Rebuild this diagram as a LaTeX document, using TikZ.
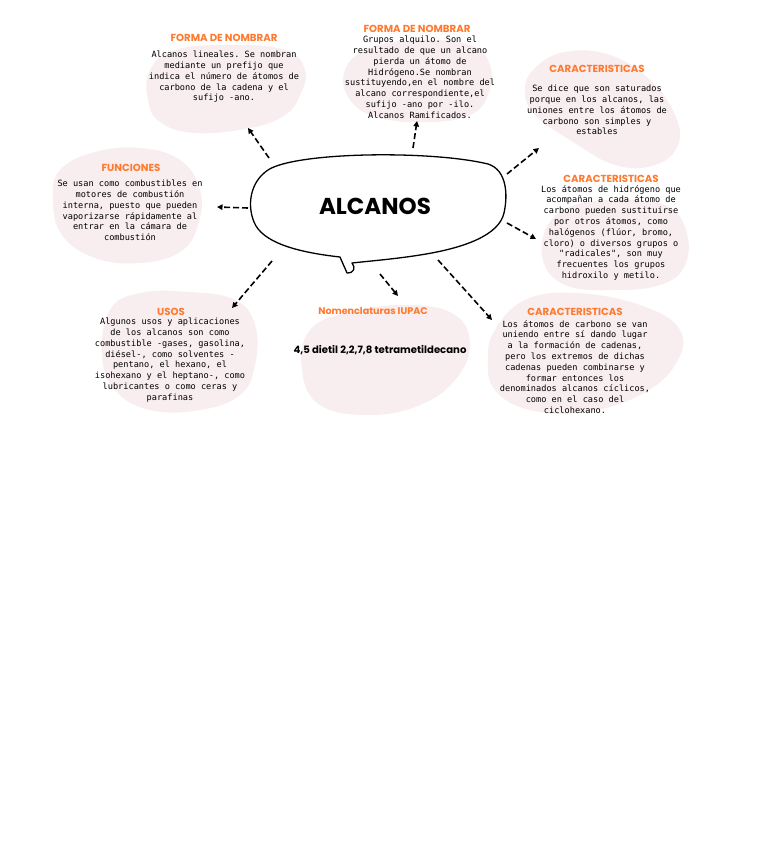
\documentclass[tikz,border=0pt]{standalone}
\usepackage{fontspec}
\setmainfont{Poppins}
\newfontfamily\monof{DejaVu Sans Mono}
\usetikzlibrary{arrows.meta}
\definecolor{blobpink}{HTML}{F8EDEF}
\definecolor{titleorange}{HTML}{FF7A2E}
\frenchspacing
\tikzset{
  blob/.style={fill=blobpink, draw=none},
  ttl/.style={font=\bfseries\fontsize{10.2}{11}\selectfont, text=titleorange, inner sep=0pt, anchor=base},
  body/.style={font=\monof\fontsize{8.6}{10.8}\selectfont, align=center, inner sep=0pt, anchor=north},
  arr/.style={-{Triangle[length=5.5pt,width=5.5pt]}, line width=1.6pt, dash pattern=on 6pt off 3pt},
  bubble/.style={draw=black, line width=1.3pt, fill=white, line join=round}
}
\begin{document}
\begin{tikzpicture}[x=1pt,y=-1pt]
\useasboundingbox (0,0) rectangle (768,862);
\fill[white] (0,0) rectangle (768,862);

% blobs
\fill[blob] plot[smooth cycle, tension=0.7] coordinates {(150,70) (175,50) (230,45) (285,50) (305,70) (300,95) (285,115) (250,128) (195,133) (160,122) (148,100)};
\fill[blob] plot[smooth cycle, tension=0.7] coordinates {(345,70) (370,48) (420,40) (470,45) (490,65) (488,95) (470,115) (430,122) (380,118) (350,100)};
\fill[blob] plot[smooth cycle, tension=0.7] coordinates {(535,68) (565,52) (610,55) (650,80) (675,115) (678,145) (655,165) (615,165) (570,140) (535,115) (525,90)};
\fill[blob] plot[smooth cycle, tension=0.7] coordinates {(60,170) (95,152) (140,148) (180,160) (200,190) (198,225) (180,252) (140,263) (95,258) (62,235) (53,200)};
\fill[blob] plot[smooth cycle, tension=0.7] coordinates {(548,225) (575,205) (620,200) (665,205) (686,230) (685,265) (660,285) (610,290) (565,285) (543,260)};
\fill[blob] plot[smooth cycle, tension=0.7] coordinates {(110,310) (140,293) (190,292) (235,300) (255,325) (255,365) (240,395) (200,410) (150,410) (115,390) (102,355)};
\fill[blob] plot[smooth cycle, tension=0.7] coordinates {(310,330) (350,312) (410,305) (455,315) (470,345) (455,380) (420,405) (370,415) (320,405) (302,370)};
\fill[blob] plot[smooth cycle, tension=0.7] coordinates {(495,330) (525,300) (575,293) (640,305) (680,330) (675,365) (640,395) (585,412) (530,410) (495,390) (488,360)};

% speech bubble
\draw[bubble] (340,257) .. controls (295,252) and (262,242) .. (254,222)
  .. controls (247,205) and (250,182) .. (268,170)
  .. controls (295,152) and (430,150) .. (488,164)
  .. controls (507,170) and (508,195) .. (504,213)
  .. controls (499,235) and (465,248) .. (420,255)
  .. controls (395,259) and (370,261) .. (352,263)
  .. controls (356,268) and (354,273) .. (347,273)
  .. controls (345,268) and (342,262) .. (340,257) -- cycle;
\node[font=\bfseries\fontsize{23}{24}\selectfont, inner sep=0pt, anchor=base] (center) at (375,214) {ALCANOS};

% titles
\node[ttl] (t1) at (224,41) {FORMA DE NOMBRAR};
\node[ttl] (t2) at (417,32) {FORMA DE NOMBRAR};
\node[ttl] (t3) at (597,72) {CARACTERISTICAS};
\node[ttl] (t4) at (131,171) {FUNCIONES};
\node[ttl] (t5) at (611,182) {CARACTERISTICAS};
\node[ttl] (t6) at (171,315) {USOS};
\node[ttl, font=\bfseries\fontsize{9.6}{11}\selectfont] (t7) at (373,314) {Nomenclaturas IUPAC};
\node[ttl] (t8) at (575,315) {CARACTERISTICAS};

% bodies
\node[body] (b1) at (224,51) {Alcanos lineales. Se nombran\\mediante un prefijo que\\indica el número de átomos de\\carbono de la cadena y el\\sufijo -ano.};
\node[body] (b2) at (420,36) {Grupos alquilo. Son el\\resultado de que un alcano\\pierda un átomo de\\Hidrógeno.Se nombran\\sustituyendo,en el nombre del\\alcano correspondiente,el\\sufijo -ano por -ilo.\\Alcanos Ramificados.};
\node[body] (b3) at (597,85) {Se dice que son saturados\\porque en los alcanos, las\\uniones entre los átomos de\\carbono son simples y\\estables};
\node[body] (b4) at (130,180) {Se usan como combustibles en\\motores de combustión\\interna, puesto que pueden\\vaporizarse rápidamente al\\entrar en la cámara de\\combustión};
\node[body] (b5) at (611,185) {Los átomos de hidrógeno que\\acompañan a cada átomo de\\carbono pueden sustituirse\\por otros átomos, como\\halógenos (flúor, bromo,\\cloro) o diversos grupos o\\"radicales", son muy\\frecuentes los grupos\\hidroxilo y metilo.};
\node[body] (b6) at (170,318) {Algunos usos y aplicaciones\\de los alcanos son como\\combustible -gases, gasolina,\\diésel-, como solventes -\\pentano, el hexano, el\\isohexano y el heptano-, como\\lubricantes o como ceras y\\parafinas};
\node[font=\bfseries\fontsize{10.1}{11}\selectfont, inner sep=0pt, anchor=base] (b7) at (380,353) {4,5 dietil 2,2,7,8 tetrametildecano};
\node[body] (b8) at (575,320) {Los átomos de carbono se van\\uniendo entre sí dando lugar\\a la formación de cadenas,\\pero los extremos de dichas\\cadenas pueden combinarse y\\formar entonces los\\denominados alcanos cíclicos,\\como en el caso del\\ciclohexano.};

% arrows
\coordinate (a1s) at (269,158); \coordinate (a1e) at (248,128);
\coordinate (a2s) at (413,148); \coordinate (a2e) at (417,121);
\coordinate (a3s) at (507,174); \coordinate (a3e) at (539,148);
\coordinate (a4s) at (248,208); \coordinate (a4e) at (217,207);
\coordinate (a5s) at (507,223); \coordinate (a5e) at (536,239);
\coordinate (a6s) at (272,261); \coordinate (a6e) at (232,308);
\coordinate (a7s) at (380,274); \coordinate (a7e) at (398,296);
\coordinate (a8s) at (438,260); \coordinate (a8e) at (492,320);
\foreach \i in {1,...,8} {\draw[arr] (a\i s) -- (a\i e);}
\end{tikzpicture}
\end{document}
